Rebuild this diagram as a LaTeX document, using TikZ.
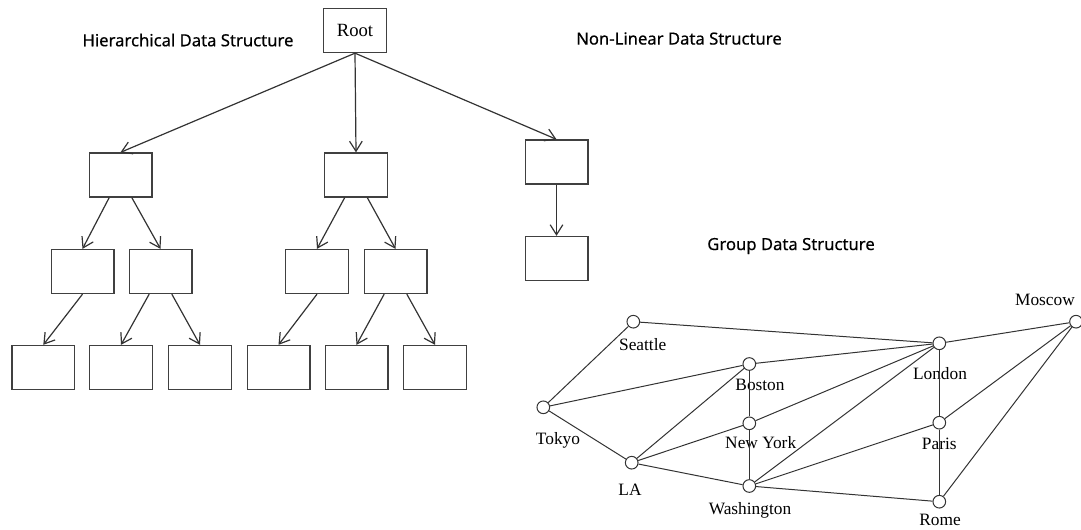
\documentclass[tikz,border=0pt]{standalone}
\usepackage{fontspec}
\setmainfont{Liberation Serif}
\newfontfamily\titlefont[FakeBold=0.4]{Noto Sans}
\usetikzlibrary{arrows.meta}

\begin{document}
\begin{tikzpicture}[x=0.75pt, y=-0.75pt]
\useasboundingbox (0,0) rectangle (1081,529);

\tikzset{TitleStyle/.style = {font = \titlefont\fontsize{12.5}{15}\selectfont, inner sep = 0pt} }

\node[TitleStyle] (T1) at (188, 40) {Hierarchical Data Structure};
\node[TitleStyle] (T2) at (679, 38.5) {Non-Linear Data Structure};
\node[TitleStyle] (T3) at (791, 246) {Group Data Structure};


\tikzset{BoxStyle/.style = {
 draw = black!75,
 line width = 1pt,
 minimum width = 47pt,
 minimum height = 33pt,
 inner sep = 0pt,
 font = \fontsize{14}{16}\selectfont} }

\node[BoxStyle] (B0) at (355, 30.5) {Root};
\node[BoxStyle] (B1_1) at (120.5, 175) {};
\node[BoxStyle] (B1_2) at (356, 175) {};
\node[BoxStyle] (B1_3) at (556.5, 162) {};
\node[BoxStyle] (B2_1) at (82.5, 271.5) {};
\node[BoxStyle] (B2_2) at (160.5, 271.5) {};
\node[BoxStyle] (B2_3) at (317, 271.5) {};
\node[BoxStyle] (B2_4) at (395.5, 271.5) {};
\node[BoxStyle] (B2_5) at (556.5, 258.5) {};
\node[BoxStyle] (B3_1) at (43.3, 367.5) {};
\node[BoxStyle] (B3_2) at (121, 367.5) {};
\node[BoxStyle] (B3_3) at (200, 367.5) {};
\node[BoxStyle] (B3_4) at (278.5, 367.5) {};
\node[BoxStyle] (B3_5) at (356.5, 367.5) {};
\node[BoxStyle] (B3_6) at (435, 367.5) {};


\tikzset{ArrowStyle/.style = {draw = black!80, line width = 0.9pt, -{Straight Barb[length=7.5pt, width=9.5pt]}} }

\draw[ArrowStyle] (B0.south) -- (B1_1.north);
\draw[ArrowStyle] (B0.south) -- (B1_2.north);
\draw[ArrowStyle] (B0.south) -- (B1_3.north);
\draw[ArrowStyle] ([xshift=-8.5pt]B1_1.south) -- (B2_1.north);
\draw[ArrowStyle] ([xshift=8.5pt]B1_1.south) -- (B2_2.north);
\draw[ArrowStyle] ([xshift=-8.5pt]B1_2.south) -- (B2_3.north);
\draw[ArrowStyle] ([xshift=8.5pt]B1_2.south) -- (B2_4.north);
\draw[ArrowStyle] (B1_3.south) -- (B2_5.north);
\draw[ArrowStyle] (B2_1.south) -- (B3_1.north);
\draw[ArrowStyle] ([xshift=-8.5pt]B2_2.south) -- (B3_2.north);
\draw[ArrowStyle] ([xshift=8.5pt]B2_2.south) -- (B3_3.north);
\draw[ArrowStyle] (B2_3.south) -- (B3_4.north);
\draw[ArrowStyle] ([xshift=-8.5pt]B2_4.south) -- (B3_5.north);
\draw[ArrowStyle] ([xshift=8.5pt]B2_4.south) -- (B3_6.north);


\tikzset{VertexStyle/.style = {
 shape = circle,
 draw = black!80,
 fill = white,
 line width = 0.75pt,
 inner sep = 0pt,
 minimum size = 9.5pt} }

\node[VertexStyle] (Seattle) at (633.3, 321.7) {};
\node[VertexStyle] (Tokyo) at (543.3, 407.3) {};
\node[VertexStyle] (Boston) at (749.3, 364) {};
\node[VertexStyle] (NewYork) at (749.3, 423.3) {};
\node[VertexStyle] (LA) at (631.7, 462.7) {};
\node[VertexStyle] (Washington) at (749.3, 486) {};
\node[VertexStyle] (London) at (939.3, 343.3) {};
\node[VertexStyle] (Paris) at (939.3, 422.7) {};
\node[VertexStyle] (Rome) at (939.3, 501.7) {};
\node[VertexStyle] (Moscow) at (1076, 321.7) {};


\tikzset{CityStyle/.style = {font = \fontsize{13}{15}\selectfont, inner sep = 0pt} }

\node[CityStyle] (L_Seattle) at (642.7, 345) {Seattle};
\node[CityStyle] (L_Tokyo) at (558, 440.7) {Tokyo};
\node[CityStyle] (L_Boston) at (760, 385) {Boston};
\node[CityStyle] (L_NewYork) at (760.7, 442.3) {New York};
\node[CityStyle] (L_LA) at (630, 489.3) {LA};
\node[CityStyle] (L_Washington) at (750, 510) {Washington};
\node[CityStyle] (L_London) at (940, 373.3) {London};
\node[CityStyle] (L_Paris) at (939.3, 444) {Paris};
\node[CityStyle] (L_Rome) at (940, 520) {Rome};
\node[CityStyle] (L_Moscow) at (1045, 300) {Moscow};


\tikzset{EdgeStyle/.style = {draw = black!80, line width = 0.75pt} }

\draw[EdgeStyle] (Tokyo) -- (Seattle);
\draw[EdgeStyle] (Tokyo) -- (Boston);
\draw[EdgeStyle] (Tokyo) -- (LA);
\draw[EdgeStyle] (Seattle) -- (London);
\draw[EdgeStyle] (Boston) -- (London);
\draw[EdgeStyle] (Boston) -- (LA);
\draw[EdgeStyle] (Boston) -- (NewYork);
\draw[EdgeStyle] (NewYork) -- (LA);
\draw[EdgeStyle] (NewYork) -- (London);
\draw[EdgeStyle] (NewYork) -- (Washington);
\draw[EdgeStyle] (LA) -- (Washington);
\draw[EdgeStyle] (Washington) -- (London);
\draw[EdgeStyle] (Washington) -- (Paris);
\draw[EdgeStyle] (Washington) -- (Rome);
\draw[EdgeStyle] (London) -- (Moscow);
\draw[EdgeStyle] (London) -- (Paris);
\draw[EdgeStyle] (Paris) -- (Moscow);
\draw[EdgeStyle] (Paris) -- (Rome);
\draw[EdgeStyle] (Rome) -- (Moscow);

\end{tikzpicture}
\end{document}
